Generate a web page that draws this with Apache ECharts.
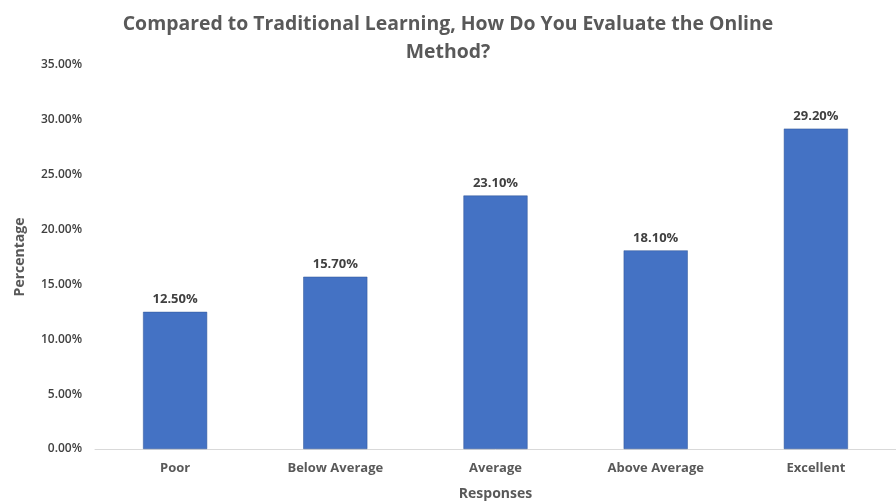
<!DOCTYPE html>
<html><head><meta charset="utf-8">
<script src="https://cdn.jsdelivr.net/npm/echarts@6/dist/echarts.min.js"></script>
<style>html,body{margin:0;padding:0;background:#fff}#c{width:896px;height:501px}</style>
</head><body><div id="c"></div>
<script>
const categories = ["Poor", "Below Average", "Average", "Above Average", "Excellent"];
const values = [12.5, 15.7, 23.1, 18.1, 29.2];
const yTicks = [0, 5, 10, 15, 20, 25, 30, 35];
const titleText = "Compared to Traditional Learning, How Do You Evaluate the Online\nMethod?";

const chart = echarts.init(document.getElementById('c'));
chart.setOption({
  animation: false,
  backgroundColor: '#fff',
  title: {
    text: titleText, left: 'center', top: 5,
    textStyle: { fontFamily: 'Open Sans', fontWeight: 'bold', fontSize: 19.4, color: '#595959', lineHeight: 28 }
  },
  grid: { left: 95, right: 0, top: 65, bottom: 52, outerBoundsMode: 'none', containLabel: false },
  xAxis: {
    type: 'category', data: categories,
    name: 'Responses', nameLocation: 'middle', nameGap: 38,
    nameTextStyle: { fontFamily: 'Open Sans', fontWeight: 'bold', fontSize: 14, color: '#595959' },
    axisLine: { lineStyle: { color: '#d9d9d9', width: 1 } },
    axisTick: { show: false },
    axisLabel: { fontFamily: 'Open Sans', fontWeight: 'bold', fontSize: 13, color: '#595959', margin: 13 }
  },
  yAxis: {
    type: 'value', min: yTicks[0], max: yTicks[yTicks.length - 1], interval: 5,
    name: 'Percentage', nameLocation: 'middle', nameGap: 68, nameRotate: 90,
    nameTextStyle: { fontFamily: 'Open Sans', fontWeight: 'bold', fontSize: 14, color: '#595959' },
    axisLine: { show: false }, axisTick: { show: false }, splitLine: { show: false },
    axisLabel: { fontFamily: 'Open Sans', fontWeight: 600, fontSize: 12, color: '#404040', margin: 13,
      formatter: v => v.toFixed(2) + '%' }
  },
  series: [{
    type: 'bar', data: values, barWidth: '40%',
    itemStyle: { color: '#4472C4', borderColor: '#2F5597', borderWidth: 0.5 },
    label: { show: true, position: 'top', distance: 6, fontFamily: 'Open Sans', fontWeight: 'bold', fontSize: 13, color: '#404040',
      formatter: p => p.value.toFixed(2) + '%' }
  }]
});
</script></body></html>
